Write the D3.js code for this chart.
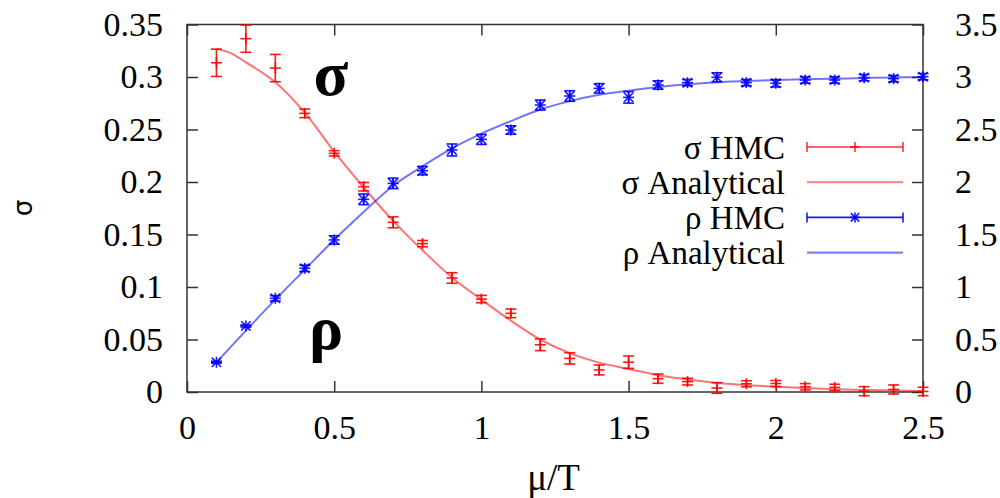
<!DOCTYPE html>
<html>
<head>
<meta charset="utf-8">
<script src="https://cdn.jsdelivr.net/npm/d3@7"></script>
<style>
  html, body { margin: 0; padding: 0; background: #fff; }
  svg { display: block; }
</style>
</head>
<body>
<svg id="chart" width="1000" height="498"></svg>
<script>
// chemical potential values where the HMC runs were made
const muT = [0.1,0.2,0.3,0.4,0.5,0.6,0.7,0.8,0.9,1.0,1.1,1.2,1.3,1.4,1.5,1.6,1.7,1.8,1.9,2.0,2.1,2.2,2.3,2.4,2.5];

// sigma condensate from HMC (left axis) with its errors
const sigmaHmc = [0.3135,0.3365,0.3085,0.2654,0.2273,0.1955,0.1616,0.1413,0.1086,0.0885,0.0749,0.045,0.032,0.021,0.0284,0.0127,0.0099,0.0038,0.0078,0.0081,0.005,0.0044,0.0008,0.0024,0.0005];
const sigmaErr = [0.013,0.013,0.013,0.0041,0.0025,0.004,0.0052,0.003,0.005,0.0035,0.0041,0.0056,0.0054,0.0047,0.0059,0.0044,0.0032,0.0051,0.0029,0.0029,0.003,0.003,0.0043,0.0043,0.004];

// density from HMC (right axis) with its errors
const rhoHmc = [0.283,0.629,0.892,1.178,1.448,1.835,1.987,2.108,2.305,2.406,2.495,2.733,2.819,2.892,2.806,2.924,2.946,2.997,2.946,2.94,2.971,2.971,2.994,2.984,3.003];
const rhoErr = [0.01,0.01,0.025,0.03,0.04,0.051,0.05,0.04,0.057,0.048,0.04,0.048,0.05,0.045,0.055,0.04,0.03,0.043,0.03,0.035,0.03,0.03,0.03,0.03,0.03];

// analytical curves
const sigmaAnaX = [0.1,0.15,0.2,0.3,0.4,0.5,0.6,0.7,0.8,0.9,1.0,1.1,1.2,1.3,1.4,1.5,1.6,1.7,1.8,1.9,2.0,2.1,2.2,2.3,2.4,2.5];
const sigmaAna  = [0.327,0.3225,0.314,0.295,0.266,0.229,0.195,0.163,0.135,0.109,0.088,0.068,0.050,0.037,0.028,0.022,0.016,0.012,0.0085,0.0065,0.005,0.0037,0.0027,0.002,0.0014,0.001];
const rhoAnaX = [0.1,0.2,0.3,0.4,0.5,0.6,0.7,0.8,0.9,1.0,1.1,1.2,1.3,1.4,1.5,1.6,1.7,1.8,1.9,2.0,2.1,2.2,2.3,2.4,2.5];
const rhoAna  = [0.283,0.585,0.88,1.165,1.45,1.715,1.965,2.15,2.32,2.46,2.58,2.69,2.77,2.83,2.87,2.905,2.932,2.951,2.962,2.971,2.978,2.984,2.99,2.995,2.999];

// tick values and labels
const xTicks = [0,0.5,1,1.5,2,2.5];
const xTickLabels = ["0","0.5","1","1.5","2","2.5"];
const yLeftTicks = [0,0.05,0.1,0.15,0.2,0.25,0.3,0.35];
const yLeftLabels = ["0","0.05","0.1","0.15","0.2","0.25","0.3","0.35"];
const yRightTicks = [0,0.5,1,1.5,2,2.5,3,3.5];
const yRightLabels = ["0","0.5","1","1.5","2","2.5","3","3.5"];

const legendLabels = ["σ HMC","σ Analytical","ρ HMC","ρ Analytical"];

const svg = d3.select("#chart");
const W = 1000, H = 498;
const L = 187, R = 923, T = 24.5, B = 392;

const x = d3.scaleLinear([0, 2.5], [L, R]);
const yL = d3.scaleLinear([0, 0.35], [B, T]);
const yR = d3.scaleLinear([0, 3.5], [B, T]);

const SERIF = "Liberation Serif";
const frameColor = "#333";
const RED = "#ff0000", BLUE = "#0000ff";

svg.append("rect").attr("width", W).attr("height", H).attr("fill", "#fff");

function styleAxis(g, size) {
  g.attr("font-family", SERIF).attr("font-size", size);
  g.select(".domain").remove();
  g.selectAll(".tick line").attr("stroke", frameColor).attr("stroke-width", 1.5);
  g.selectAll(".tick text").attr("fill", "#000").attr("font-family", SERIF).attr("font-size", size);
}

// axes with inward ticks
const gB = svg.append("g").attr("transform", `translate(0,${B})`)
  .call(d3.axisBottom(x).tickValues(xTicks).tickFormat((d, i) => xTickLabels[i]).tickSize(-11).tickSizeOuter(0).tickPadding(23));
styleAxis(gB, 34);

const gT = svg.append("g").attr("transform", `translate(0,${T})`)
  .call(d3.axisTop(x).tickValues(xTicks).tickFormat("").tickSize(-11).tickSizeOuter(0));
styleAxis(gT, 34);

const gL = svg.append("g").attr("transform", `translate(${L},0)`)
  .call(d3.axisLeft(yL).tickValues(yLeftTicks).tickFormat((d, i) => yLeftLabels[i]).tickSize(-11).tickSizeOuter(0).tickPadding(24));
styleAxis(gL, 34);

const gR = svg.append("g").attr("transform", `translate(${R},0)`)
  .call(d3.axisRight(yR).tickValues(yRightTicks).tickFormat((d, i) => yRightLabels[i]).tickSize(-11).tickSizeOuter(0).tickPadding(32));
styleAxis(gR, 34);

// frame
svg.append("rect").attr("x", L).attr("y", T).attr("width", R - L).attr("height", B - T)
  .attr("fill", "none").attr("stroke", frameColor).attr("stroke-width", 1.5);

// axis titles
svg.append("text").attr("font-family", SERIF).attr("font-size", 37)
  .attr("x", 553.5).attr("y", 490).attr("text-anchor", "middle").text("μ/T");
svg.append("text").attr("transform", "translate(32,208) rotate(-90)").attr("text-anchor", "middle")
  .attr("font-family", "DejaVu Sans").attr("font-size", 26).text("σ");

// analytical curves
const sigmaLine = d3.line().x(d => x(d[0])).y(d => yL(d[1])).curve(d3.curveMonotoneX);
const rhoLine = d3.line().x(d => x(d[0])).y(d => yR(d[1])).curve(d3.curveMonotoneX);

svg.append("path").datum(d3.zip(sigmaAnaX, sigmaAna)).attr("d", sigmaLine)
  .attr("fill", "none").attr("stroke", RED).attr("stroke-opacity", 0.55).attr("stroke-width", 2);
svg.append("path").datum(d3.zip(rhoAnaX, rhoAna)).attr("d", rhoLine)
  .attr("fill", "none").attr("stroke", BLUE).attr("stroke-opacity", 0.55).attr("stroke-width", 2);

// error bars with caps
function errorBar(g, px, yTop, yBot) {
  const cap = 5.5;
  g.append("line").attr("x1", px).attr("x2", px).attr("y1", yTop).attr("y2", yBot);
  g.append("line").attr("x1", px - cap).attr("x2", px + cap).attr("y1", yTop).attr("y2", yTop);
  g.append("line").attr("x1", px - cap).attr("x2", px + cap).attr("y1", yBot).attr("y2", yBot);
}
function plusMark(g, px, py, s) {
  g.append("line").attr("x1", px - s).attr("x2", px + s).attr("y1", py).attr("y2", py);
  g.append("line").attr("x1", px).attr("x2", px).attr("y1", py - s).attr("y2", py + s);
}
function starMark(g, px, py, s) {
  plusMark(g, px, py, s);
  const d = s * 0.85;
  g.append("line").attr("x1", px - d).attr("x2", px + d).attr("y1", py - d).attr("y2", py + d);
  g.append("line").attr("x1", px - d).attr("x2", px + d).attr("y1", py + d).attr("y2", py - d);
}

const gS = svg.append("g").attr("stroke", RED).attr("stroke-width", 1.6).attr("stroke-opacity", 0.9);
muT.forEach((m, i) => {
  const px = x(m);
  errorBar(gS, px, yL(sigmaHmc[i] + sigmaErr[i]), yL(sigmaHmc[i] - sigmaErr[i]));
  plusMark(gS, px, yL(sigmaHmc[i]), 5.5);
});

const gP = svg.append("g").attr("stroke", BLUE).attr("stroke-width", 1.6).attr("stroke-opacity", 0.9);
muT.forEach((m, i) => {
  const px = x(m);
  errorBar(gP, px, yR(rhoHmc[i] + rhoErr[i]), yR(rhoHmc[i] - rhoErr[i]));
  starMark(gP, px, yR(rhoHmc[i]), 5.5);
});

// big symbols inside the plot
svg.append("text").attr("font-family", SERIF).attr("font-weight", "bold").attr("font-size", 64)
  .attr("x", 331).attr("y", 95).attr("text-anchor", "middle").text("σ");
svg.append("text").attr("font-family", SERIF).attr("font-weight", "bold").attr("font-size", 64)
  .attr("x", 326).attr("y", 349).attr("text-anchor", "middle").text("ρ");

// legend
const legX = 785, lineX1 = 807, lineX2 = 903, rowY0 = 147, rowStep = 35.2;
const leg = svg.append("g");
legendLabels.forEach((lab, i) => {
  const ly = rowY0 + i * rowStep;
  leg.append("text").attr("font-family", SERIF).attr("font-size", 33)
    .attr("x", legX).attr("y", ly + 11.5).attr("text-anchor", "end").text(lab);
});
// sigma HMC sample
{
  const ly = rowY0;
  const g = leg.append("g").attr("stroke", RED).attr("stroke-width", 1.6).attr("stroke-opacity", 0.8);
  g.append("line").attr("x1", lineX1).attr("x2", lineX2).attr("y1", ly).attr("y2", ly);
  [lineX1, lineX2].forEach(px => g.append("line").attr("x1", px).attr("x2", px).attr("y1", ly - 5).attr("y2", ly + 5));
  plusMark(g, (lineX1 + lineX2) / 2, ly, 5);
}
// sigma analytical sample
leg.append("line").attr("x1", lineX1).attr("x2", lineX2).attr("y1", rowY0 + rowStep).attr("y2", rowY0 + rowStep)
  .attr("stroke", RED).attr("stroke-opacity", 0.45).attr("stroke-width", 2.2);
// rho HMC sample
{
  const ly = rowY0 + 2 * rowStep;
  const g = leg.append("g").attr("stroke", BLUE).attr("stroke-width", 1.6).attr("stroke-opacity", 0.9);
  g.append("line").attr("x1", lineX1).attr("x2", lineX2).attr("y1", ly).attr("y2", ly);
  [lineX1, lineX2].forEach(px => g.append("line").attr("x1", px).attr("x2", px).attr("y1", ly - 5).attr("y2", ly + 5));
  starMark(g, (lineX1 + lineX2) / 2, ly, 5);
}
// rho analytical sample
leg.append("line").attr("x1", lineX1).attr("x2", lineX2).attr("y1", rowY0 + 3 * rowStep).attr("y2", rowY0 + 3 * rowStep)
  .attr("stroke", BLUE).attr("stroke-opacity", 0.5).attr("stroke-width", 2.2);
</script>
</body>
</html>
